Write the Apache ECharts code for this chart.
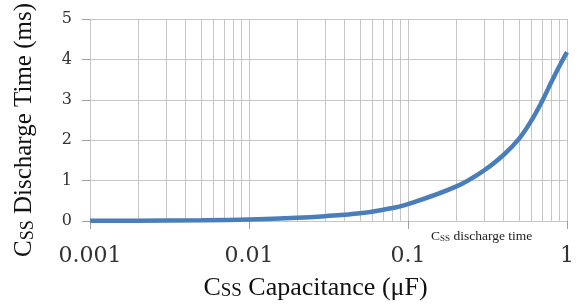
<!DOCTYPE html>
<html>
<head>
<meta charset="utf-8">
<script src="https://cdn.jsdelivr.net/npm/echarts@6/dist/echarts.min.js"></script>
<style>html,body{margin:0;padding:0;background:#fff}#c{width:577px;height:306px}</style>
</head>
<body>
<div id="c"></div>
<script>
var capacitance = [0.001, 0.002, 0.005, 0.01, 0.02, 0.03, 0.05, 0.07, 0.1, 0.2, 0.3, 0.4, 0.5, 0.6, 0.7, 0.8, 0.9, 1.0];
var dischargeTime = [0.004, 0.008, 0.02, 0.04, 0.08, 0.12, 0.19, 0.28, 0.42, 0.85, 1.25, 1.64, 2.04, 2.5, 2.98, 3.45, 3.85, 4.18];
var minorTicks = [0.002,0.003,0.004,0.005,0.006,0.007,0.008,0.009,
                  0.02,0.03,0.04,0.05,0.06,0.07,0.08,0.09,
                  0.2,0.3,0.4,0.5,0.6,0.7,0.8,0.9];
var xTickLabels = ['0.001', '0.01', '0.1', '1'];
var yTickLabels = ['0', '1', '2', '3', '4', '5'];
var yMin = 0, yMax = 5;
var seriesName = 'CSS discharge time';

var gridColor = '#c6c6c6';
var serif = '"Liberation Serif", "Times New Roman", serif';
var numFont = '"DejaVu Serif", serif';

var chart = echarts.init(document.getElementById('c'));
chart.setOption({
  animation: false,
  grid: {left: 90, right: 8, top: 19, bottom: 83},
  legend: {
    data: [seriesName],
    left: 421, top: 224,
    icon: 'none', itemWidth: 0, itemHeight: 0,
    formatter: function () { return '{c|C}{s|SS}{c| discharge time}'; },
    textStyle: {
      rich: {
        c: {fontFamily: serif, fontSize: 13.5, color: '#222', verticalAlign: 'bottom', lineHeight: 16},
        s: {fontFamily: serif, fontSize: 9, color: '#222', verticalAlign: 'bottom', lineHeight: 14}
      }
    }
  },
  xAxis: {
    type: 'log', logBase: 10, min: 0.001, max: 1,
    name: '{c|C}{s|SS}{c| Capacitance (μF)}',
    nameLocation: 'middle', nameGap: 50,
    nameTextStyle: {
      padding: [0, 26, 0, 0],
      rich: {
        c: {fontFamily: serif, fontSize: 26, color: '#111', verticalAlign: 'bottom', lineHeight: 30},
        s: {fontFamily: serif, fontSize: 19, color: '#111', verticalAlign: 'bottom', lineHeight: 26}
      }
    },
    axisLine: {show: true, lineStyle: {color: gridColor, width: 1}},
    axisTick: {show: true, length: 8, lineStyle: {color: '#a0a0a0'}},
    axisLabel: {
      margin: 24, fontFamily: numFont, fontSize: 22, color: '#333',
      formatter: function (v) {
        var i = Math.round(Math.log10(v)) + 3;
        return xTickLabels[i] !== undefined ? xTickLabels[i] : '';
      }
    },
    splitLine: {show: true, lineStyle: {color: gridColor, width: 1}},
    minorTick: {show: false},
    minorSplitLine: {show: false}
  },
  yAxis: {
    type: 'value', min: yMin, max: yMax, interval: 1,
    name: '{c|C}{s|SS}{c| Discharge Time (ms)}',
    nameLocation: 'middle', nameGap: 53, nameRotate: 90,
    nameTextStyle: {
      padding: [0, 20, 0, 0],
      rich: {
        c: {fontFamily: serif, fontSize: 25, color: '#111', verticalAlign: 'bottom', lineHeight: 29},
        s: {fontFamily: serif, fontSize: 18, color: '#111', verticalAlign: 'bottom', lineHeight: 25}
      }
    },
    axisLine: {show: true, lineStyle: {color: gridColor, width: 1}},
    axisTick: {show: true, length: 8, lineStyle: {color: '#a0a0a0'}},
    axisLabel: {
      margin: 18, fontFamily: numFont, fontSize: 16, color: '#333',
      formatter: function (v) { return yTickLabels[Math.round(v)]; }
    },
    splitLine: {show: true, lineStyle: {color: gridColor, width: 1}}
  },
  series: [
    {
      name: 'minorGrid', type: 'lines', coordinateSystem: 'cartesian2d',
      z: 1, silent: true, polyline: false,
      lineStyle: {color: gridColor, width: 1, opacity: 1, type: 'solid'},
      data: minorTicks.map(function (v) { return {coords: [[v, yMin], [v, yMax]]}; })
    },
    {
      name: seriesName, type: 'line', z: 3,
      data: capacitance.map(function (c, i) { return [c, dischargeTime[i]]; }),
      smooth: 0.4, showSymbol: false,
      lineStyle: {color: '#4a7ebb', width: 4.5},
      itemStyle: {color: '#4a7ebb'}
    }
  ]
});
</script>
</body>
</html>
